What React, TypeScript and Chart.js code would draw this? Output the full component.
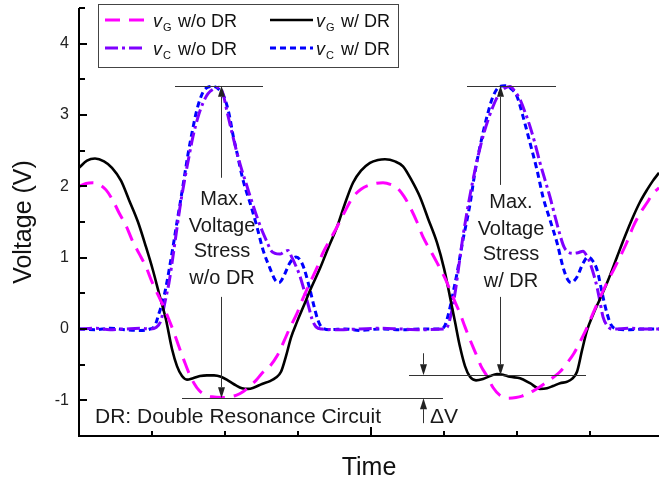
import React, { useEffect, useRef } from "react";
import { Chart, registerables } from "chart.js";

Chart.register(...registerables);

// ---------- axes (time axis is unlabeled: arbitrary units, one division = 73) ----------
const TIME_MIN = 0;
const TIME_MAX = 580;
const TIME_TICK_STEP = 73;
const TIME_MAJOR_EVERY = 4;
const VOLT_MIN = -1.5;
const VOLT_MAX = 4.5;
const VOLT_TICK_STEP = 0.5;
const VOLT_TICK_LABELS = [-1, 0, 1, 2, 3, 4];

// ---------- series: [time, voltage] ----------
const vG_woDR: [number, number][] = [
  [0, 2.0], [7, 2.04], [14, 2.05], [21, 2.02], [27, 1.95], [34, 1.8], [40, 1.63], [47, 1.45],
  [53, 1.25], [60, 1.06], [67, 0.87], [73, 0.66], [80, 0.45], [85, 0.3], [90, 0.13], [95, -0.05],
  [100, -0.25], [105, -0.44], [110, -0.62], [115, -0.76], [120, -0.86], [126, -0.92], [133, -0.95],
  [143, -0.96], [151, -0.95], [157, -0.93], [164, -0.88], [170, -0.81], [177, -0.72], [183, -0.62],
  [191, -0.52], [198, -0.38], [205, -0.17], [211, 0.02], [218, 0.22], [224, 0.43], [231, 0.65],
  [238, 0.86], [244, 1.07], [251, 1.25], [258, 1.43], [266, 1.65], [274, 1.85], [282, 1.96],
  [291, 2.02], [304, 2.05], [313, 2.02], [318, 1.98], [325, 1.86], [331, 1.71], [338, 1.5],
  [344, 1.29], [351, 1.11], [358, 0.93], [365, 0.74], [371, 0.55], [376, 0.38], [381, 0.22],
  [386, 0.03], [391, -0.15], [397, -0.35], [402, -0.52], [408, -0.66], [414, -0.82], [421, -0.93],
  [429, -0.97], [437, -0.96], [443, -0.94], [448, -0.91], [454, -0.87], [461, -0.81], [468, -0.74],
  [474, -0.68], [481, -0.6], [488, -0.48], [495, -0.34], [501, -0.18], [508, 0.02], [514, 0.22],
  [521, 0.44], [528, 0.65], [535, 0.84], [541, 1.01], [548, 1.22], [554, 1.43], [561, 1.62],
  [568, 1.77], [574, 1.9], [580, 1.98],
];

const vG_wDR: [number, number][] = [
  [0, 2.26], [8, 2.36], [16, 2.39], [25, 2.35], [33, 2.26], [42, 2.08], [50, 1.81], [59, 1.5],
  [67, 1.15], [74, 0.82], [80, 0.5], [87, 0.13], [93, -0.28], [98, -0.52], [103, -0.66], [108, -0.71],
  [114, -0.69], [121, -0.66], [128, -0.65], [135, -0.65], [142, -0.67], [150, -0.73], [157, -0.79],
  [163, -0.83], [169, -0.84], [175, -0.82], [183, -0.77], [191, -0.73], [197, -0.68], [202, -0.6],
  [207, -0.38], [212, -0.12], [218, 0.1], [224, 0.3], [232, 0.57], [241, 0.85], [249, 1.13],
  [258, 1.43], [266, 1.76], [274, 2.05], [282, 2.22], [291, 2.33], [299, 2.37], [306, 2.38],
  [316, 2.35], [324, 2.28], [332, 2.1], [341, 1.85], [349, 1.55], [358, 1.21], [365, 0.85],
  [371, 0.45], [376, 0.1], [381, -0.25], [386, -0.52], [391, -0.67], [397, -0.72], [404, -0.7],
  [411, -0.66], [418, -0.63], [424, -0.64], [431, -0.67], [441, -0.69], [451, -0.76], [461, -0.84],
  [468, -0.83], [474, -0.8], [481, -0.76], [488, -0.74], [493, -0.7], [498, -0.6], [503, -0.3],
  [508, -0.02], [514, 0.2], [521, 0.42], [529, 0.68], [538, 1.01], [546, 1.3], [554, 1.57],
  [561, 1.78], [568, 1.95], [574, 2.08], [580, 2.19],
];

const vC_woDR: [number, number][] = [
  [0, 0.0], [16, 0.01], [31, -0.01], [46, 0.0], [61, 0.01], [71, 0.0], [77, 0.02], [82, 0.12],
  [86, 0.38], [90, 0.65], [94, 1.02], [98, 1.42], [102, 1.8], [106, 2.12], [110, 2.42], [114, 2.7],
  [119, 2.97], [124, 3.17], [129, 3.3], [134, 3.36], [140, 3.39], [144, 3.3], [148, 3.05],
  [153, 2.75], [158, 2.47], [163, 2.22], [168, 2.0], [173, 1.78], [178, 1.57], [183, 1.38],
  [188, 1.22], [192, 1.1], [196, 1.06], [201, 1.05], [205, 1.08], [209, 1.1], [213, 1.0],
  [217, 0.88], [221, 0.74], [225, 0.55], [229, 0.35], [233, 0.14], [237, 0.03], [243, 0.0],
  [261, -0.01], [281, 0.0], [301, 0.01], [321, 0.0], [341, -0.01], [365, 0.0], [368, 0.02],
  [372, 0.2], [376, 0.5], [380, 0.9], [384, 1.3], [389, 1.72], [394, 2.09], [399, 2.42],
  [404, 2.7], [409, 2.93], [414, 3.12], [419, 3.27], [424, 3.36], [431, 3.4], [436, 3.33],
  [441, 3.22], [446, 3.04], [451, 2.84], [456, 2.6], [461, 2.33], [466, 2.09], [471, 1.85],
  [476, 1.58], [481, 1.32], [485, 1.15], [489, 1.08], [494, 1.06], [499, 1.07], [504, 1.09],
  [508, 1.02], [511, 0.93], [515, 0.75], [518, 0.59], [521, 0.38], [524, 0.17], [528, 0.05],
  [533, 0.0], [551, 0.01], [566, 0.0], [580, 0.0],
];

const vC_wDR: [number, number][] = [
  [0, 0.0], [16, -0.01], [31, 0.01], [46, -0.01], [61, -0.02], [71, 0.0], [76, 0.05], [80, 0.22],
  [84, 0.4], [87, 0.59], [91, 0.9], [94, 1.15], [98, 1.5], [101, 1.75], [105, 2.1], [109, 2.45],
  [113, 2.75], [118, 3.08], [124, 3.32], [129, 3.39], [134, 3.4], [139, 3.37], [144, 3.29],
  [148, 3.13], [151, 2.95], [154, 2.72], [158, 2.47], [161, 2.27], [164, 2.09], [168, 1.9],
  [171, 1.77], [178, 1.43], [184, 1.11], [191, 0.85], [196, 0.69], [200, 0.65], [204, 0.72],
  [211, 0.93], [217, 1.01], [221, 0.97], [225, 0.85], [231, 0.55], [235, 0.32], [239, 0.12],
  [243, 0.02], [251, -0.01], [266, 0.0], [281, -0.02], [301, 0.0], [321, -0.01], [341, 0.0],
  [361, 0.0], [366, 0.05], [371, 0.3], [374, 0.5], [378, 0.78], [384, 1.25], [391, 1.75],
  [396, 2.2], [401, 2.56], [408, 2.98], [414, 3.26], [421, 3.4], [426, 3.41], [431, 3.38],
  [438, 3.26], [444, 2.98], [451, 2.61], [458, 2.23], [464, 1.85], [471, 1.53], [478, 1.21],
  [484, 0.87], [488, 0.71], [492, 0.65], [498, 0.73], [504, 0.92], [509, 1.01], [514, 0.95],
  [518, 0.83], [524, 0.45], [528, 0.22], [532, 0.06], [538, 0.0], [551, -0.01], [566, 0.0],
  [580, 0.0],
];

// ---------- annotations (data coordinates) ----------
const PEAK_LEVEL = 3.41;
const DIP_WO_DR = -0.97;
const DIP_W_DR = -0.65;
const LEFT_ARROW_T = 142;
const RIGHT_ARROW_T = 421;
const DELTA_T = 344;
const LEFT_TEXT = ["Max.", "Voltage", "Stress", "w/o DR"];
const RIGHT_TEXT = ["Max.", "Voltage", "Stress", "w/ DR"];
const LEFT_TEXT_Y = [1.81, 1.44, 1.08, 0.71];
const RIGHT_TEXT_Y = [1.77, 1.39, 1.04, 0.66];

const FONT = '"Liberation Sans", Arial, Helvetica, sans-serif';

const COLORS = {
  gWo: "#ff00ff",
  gW: "#000000",
  cWo: "#7f00ff",
  cW: "#0000ff",
};

function arrowLine(ctx: CanvasRenderingContext2D, x: number, yFrom: number, yTo: number) {
  const dir = yTo > yFrom ? 1 : -1;
  const headLen = 11;
  const headW = 3.5;
  ctx.beginPath();
  ctx.moveTo(x, yFrom);
  ctx.lineTo(x, yTo - dir * headLen);
  ctx.stroke();
  ctx.beginPath();
  ctx.moveTo(x, yTo);
  ctx.lineTo(x - headW, yTo - dir * headLen);
  ctx.lineTo(x + headW, yTo - dir * headLen);
  ctx.closePath();
  ctx.fill();
}

const decorPlugin = {
  id: "decor",
  afterDatasetsDraw(chart: any) {
    const { ctx, chartArea: a, scales } = chart;
    const xs = scales.x;
    const ys = scales.y;
    const X = (t: number) => xs.getPixelForValue(t);
    const Y = (v: number) => ys.getPixelForValue(v);
    ctx.save();

    // ---- annotations ----
    ctx.strokeStyle = "#333";
    ctx.fillStyle = "#222";
    ctx.lineWidth = 1;
    const hline = (t0: number, t1: number, v: number) => {
      const py = Math.round(Y(v)) + 0.5;
      ctx.beginPath();
      ctx.moveTo(X(t0), py);
      ctx.lineTo(X(t1), py);
      ctx.stroke();
    };
    hline(96, 184, PEAK_LEVEL);
    hline(103, 364, DIP_WO_DR);
    hline(388, 477, PEAK_LEVEL);
    hline(330, 507, DIP_W_DR);

    const lx = Math.round(X(LEFT_ARROW_T)) + 0.5;
    arrowLine(ctx, lx, Y(2.12), Y(PEAK_LEVEL));
    arrowLine(ctx, lx, Y(0.45), Y(DIP_WO_DR));
    const rx = Math.round(X(RIGHT_ARROW_T)) + 0.5;
    arrowLine(ctx, rx, Y(2.02), Y(PEAK_LEVEL));
    arrowLine(ctx, rx, Y(0.45), Y(DIP_W_DR));
    const dx = Math.round(X(DELTA_T)) + 0.5;
    arrowLine(ctx, dx, Y(-0.34), Y(DIP_W_DR));
    arrowLine(ctx, dx, Y(-1.32), Y(DIP_WO_DR));

    ctx.fillStyle = "#1a1a1a";
    ctx.font = `20px ${FONT}`;
    ctx.textAlign = "center";
    ctx.textBaseline = "middle";
    LEFT_TEXT.forEach((s, i) => ctx.fillText(s, X(143), Y(LEFT_TEXT_Y[i])));
    RIGHT_TEXT.forEach((s, i) => ctx.fillText(s, X(432), Y(RIGHT_TEXT_Y[i])));
    ctx.textAlign = "left";
    ctx.font = `21px ${FONT}`;
    ctx.fillText("DR: Double Resonance Circuit", X(16), Y(-1.23));
    ctx.fillText("\u0394V", X(351), Y(-1.23));

    // ---- axes ----
    ctx.strokeStyle = "#000";
    ctx.lineWidth = 2;
    ctx.beginPath();
    ctx.moveTo(a.left, a.top);
    ctx.lineTo(a.left, a.bottom);
    ctx.lineTo(a.right, a.bottom);
    ctx.stroke();

    ctx.lineWidth = 2;
    for (let v = VOLT_MIN; v <= VOLT_MAX + 1e-9; v += VOLT_TICK_STEP) {
      const py = Math.round(Y(v));
      const major = Math.abs(v - Math.round(v)) < 1e-6;
      const len = major ? 8 : 6;
      ctx.beginPath();
      ctx.moveTo(a.left, py);
      ctx.lineTo(a.left + len, py);
      ctx.stroke();
    }
    let k = 0;
    for (let t = TIME_MIN; t <= TIME_MAX + 1e-9; t += TIME_TICK_STEP, k++) {
      const px = Math.round(X(t));
      const major = k % TIME_MAJOR_EVERY === 0;
      const len = major ? 9 : 5;
      ctx.beginPath();
      ctx.moveTo(px, a.bottom);
      ctx.lineTo(px, a.bottom - len);
      ctx.stroke();
    }

    ctx.fillStyle = "#222";
    ctx.font = `16px ${FONT}`;
    ctx.textAlign = "right";
    ctx.textBaseline = "middle";
    VOLT_TICK_LABELS.forEach((v) => ctx.fillText(String(v), a.left - 10, Y(v)));

    ctx.fillStyle = "#111";
    ctx.font = `25px ${FONT}`;
    ctx.textAlign = "center";
    ctx.textBaseline = "alphabetic";
    ctx.fillText("Time", (a.left + a.right) / 2, 475);
    ctx.save();
    ctx.translate(31, (a.top + a.bottom) / 2);
    ctx.rotate(-Math.PI / 2);
    ctx.fillText("Voltage (V)", 0, 0);
    ctx.restore();

    // ---- legend ----
    const bx = 98.5, by = 4.5, bw = 300, bh = 63;
    ctx.fillStyle = "#fff";
    ctx.fillRect(bx, by, bw, bh);
    ctx.strokeStyle = "#444";
    ctx.lineWidth = 1;
    ctx.strokeRect(bx, by, bw, bh);
    const items = [
      { ds: 0, sub: "G", rest: "w/o DR", lx0: 105, lx1: 145, tx: 153, ty: 27, ly: 20 },
      { ds: 1, sub: "G", rest: "w/ DR", lx0: 270, lx1: 313, tx: 316, ty: 27, ly: 20 },
      { ds: 2, sub: "C", rest: "w/o DR", lx0: 105, lx1: 145, tx: 153, ty: 55, ly: 48 },
      { ds: 3, sub: "C", rest: "w/ DR", lx0: 270, lx1: 313, tx: 316, ty: 55, ly: 48 },
    ];
    items.forEach((it) => {
      const d = chart.data.datasets[it.ds];
      ctx.save();
      ctx.strokeStyle = d.borderColor;
      ctx.lineWidth = d.borderWidth;
      ctx.setLineDash(d.borderDash || []);
      ctx.beginPath();
      ctx.moveTo(it.lx0, it.ly);
      ctx.lineTo(it.lx1, it.ly);
      ctx.stroke();
      ctx.restore();
      ctx.fillStyle = "#111";
      ctx.textAlign = "left";
      ctx.textBaseline = "alphabetic";
      ctx.font = `italic 18px ${FONT}`;
      ctx.fillText("v", it.tx, it.ty);
      ctx.font = `11px ${FONT}`;
      ctx.fillText(it.sub, it.tx + 10, it.ty + 4);
      ctx.font = `18px ${FONT}`;
      ctx.fillText(it.rest, it.tx + 25, it.ty);
    });

    ctx.restore();
  },
};

const toXY = (arr: [number, number][]) => arr.map(([x, y]) => ({ x, y }));

export default function App() {
  const ref = useRef<HTMLCanvasElement | null>(null);

  useEffect(() => {
    if (!ref.current) return;
    const common = {
      pointRadius: 0,
      fill: false,
      cubicInterpolationMode: "monotone" as const,
      borderCapStyle: "butt" as const,
      borderJoinStyle: "round" as const,
    };
    const chart = new Chart(ref.current, {
      type: "line",
      data: {
        datasets: [
          { ...common, label: "vG w/o DR", data: toXY(vG_woDR), borderColor: COLORS.gWo, borderWidth: 3, borderDash: [15, 9] },
          { ...common, label: "vG w/ DR", data: toXY(vG_wDR), borderColor: COLORS.gW, borderWidth: 2.6, borderDash: [] },
          { ...common, label: "vC w/o DR", data: toXY(vC_woDR), borderColor: COLORS.cWo, borderWidth: 3, borderDash: [13, 4, 3, 4] },
          { ...common, label: "vC w/ DR", data: toXY(vC_wDR), borderColor: COLORS.cW, borderWidth: 3, borderDash: [6, 4] },
        ] as any,
      },
      options: {
        responsive: false,
        animation: false,
        devicePixelRatio: 1,
        layout: { padding: { left: 79, top: 8, right: 0, bottom: 42 } },
        scales: {
          x: { type: "linear", min: TIME_MIN, max: TIME_MAX, display: false },
          y: { type: "linear", min: VOLT_MIN, max: VOLT_MAX, display: false },
        },
        plugins: { legend: { display: false }, tooltip: { enabled: false } },
        events: [],
      },
      plugins: [decorPlugin],
    });
    return () => chart.destroy();
  }, []);

  return (
    <div style={{ position: "fixed", left: 0, top: 0, width: 659, height: 478, background: "#fff" }}>
      <canvas ref={ref} width={659} height={478} style={{ display: "block" }} />
    </div>
  );
}
